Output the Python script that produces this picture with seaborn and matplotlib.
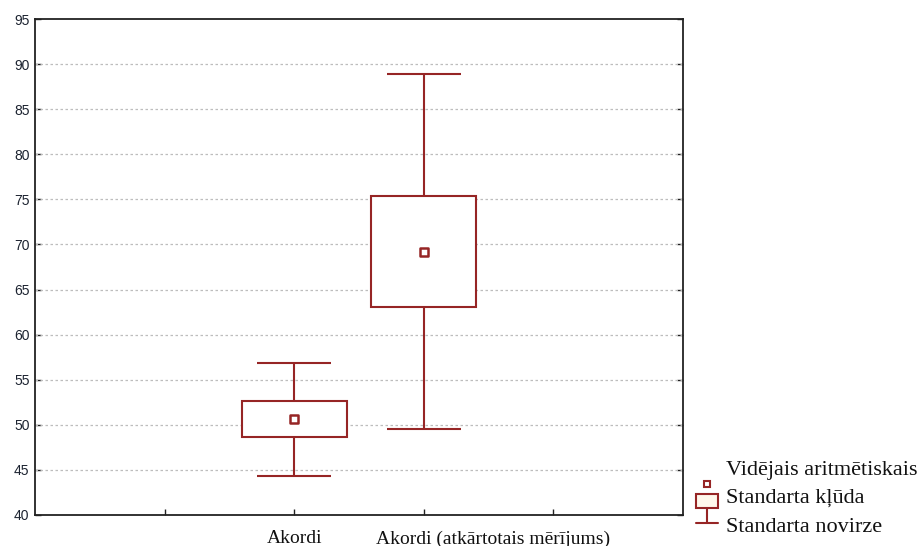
import matplotlib
matplotlib.use("Agg")
import matplotlib.pyplot as plt
import matplotlib.transforms as mtransforms
from matplotlib.patches import Rectangle
from matplotlib.lines import Line2D
import seaborn as sns
import pandas as pd
import numpy as np

# ---- data ----
categories = ["Akordi", "Akordi (atkārtotais mērījums)"]
means = [50.6, 69.2]
std_err = [2.0, 6.15]
std_dev = [6.3, 19.7]
positions = [2, 3]
legend_labels = ["Vidējais aritmētiskais", "Standarta kļūda", "Standarta novirze"]
yticks = list(range(40, 100, 5))

RED = "#962525"
sns.set_theme(style="white")
plt.rcParams['font.family'] = ['Liberation Sans', 'DejaVu Sans']

fig = plt.figure(figsize=(9.21, 5.46), dpi=100)
ax = fig.add_axes([35/921, 1 - 515/546, (683-35)/921, (515-19)/546])

df = pd.DataFrame({"pos": positions, "mean": means, "se": std_err, "sd": std_dev})

box_w = 0.81
cap_w = 0.57
for _, r in df.iterrows():
    # whiskers (SD)
    ax.vlines(r["pos"], r["mean"] - r["sd"], r["mean"] - r["se"], color=RED, lw=1.5, zorder=3)
    ax.vlines(r["pos"], r["mean"] + r["se"], r["mean"] + r["sd"], color=RED, lw=1.5, zorder=3)
    ax.hlines([r["mean"] - r["sd"], r["mean"] + r["sd"]], r["pos"] - cap_w/2, r["pos"] + cap_w/2,
              color=RED, lw=1.5, zorder=3)
    # box (SE)
    ax.add_patch(Rectangle((r["pos"] - box_w/2, r["mean"] - r["se"]), box_w, 2*r["se"],
                           facecolor="white", edgecolor=RED, lw=1.5, zorder=3))

sns.scatterplot(data=df, x="pos", y="mean", marker="s", s=30, facecolor="white",
                edgecolor=RED, linewidth=1.8, ax=ax, zorder=4, legend=False)

ax.set_xlim(0, 5)
ax.set_ylim(40, 95)
ax.set_yticks(yticks)
ax.set_yticklabels([str(v) for v in yticks], fontsize=10, color="#1c2330")
ax.set_xticks([1, 2, 3, 4])
ax.set_xticklabels(["", categories[0], categories[1], ""],
                   fontfamily="Liberation Serif", fontsize=14, color="#111111")
ax.set_xlabel("")
ax.set_ylabel("")
for y in yticks[1:-1]:
    ax.axhline(y, color="#bdbdbd", lw=0.9, ls=(0, (2, 2)), zorder=1)
ax.tick_params(axis="both", direction="in", length=4, width=1, color="#222222",
               left=True, bottom=True, right=True, top=False)
ax.tick_params(axis="x", pad=11)
ax.tick_params(axis="y", pad=4)
for s in ax.spines.values():
    s.set_visible(True)
    s.set_color("#222222")
    s.set_linewidth(1.3)

# shift second category label to the right, as in the original
lbl = ax.get_xticklabels()[2]
lbl.set_transform(lbl.get_transform() + mtransforms.ScaledTranslation(0.695, 0, fig.dpi_scale_trans))

# ---- legend (figure coords in pixels) ----
W, H = 921, 546
def fx(px): return px / W
def fy(py): return 1 - py / H

# mean marker
fig.add_artist(Rectangle((fx(704), fy(487)), 6/W, 6/H, transform=fig.transFigure,
                         facecolor="white", edgecolor=RED, lw=1.5))
# SE box
fig.add_artist(Rectangle((fx(696), fy(508)), 22/W, 14/H, transform=fig.transFigure,
                         facecolor="#fff8ec", edgecolor=RED, lw=1.5))
# SD whisker
fig.add_artist(Line2D([fx(707), fx(707)], [fy(508), fy(523)], transform=fig.transFigure,
                      color=RED, lw=1.5))
fig.add_artist(Line2D([fx(696), fx(718)], [fy(523), fy(523)], transform=fig.transFigure,
                      color=RED, lw=1.5))
for txt, py in zip(legend_labels, [470, 498, 528]):
    fig.text(fx(726), fy(py), txt, fontfamily="Liberation Serif", fontsize=16,
             va="center", ha="left", color="#111111")

fig.savefig("out.png", dpi=100)
